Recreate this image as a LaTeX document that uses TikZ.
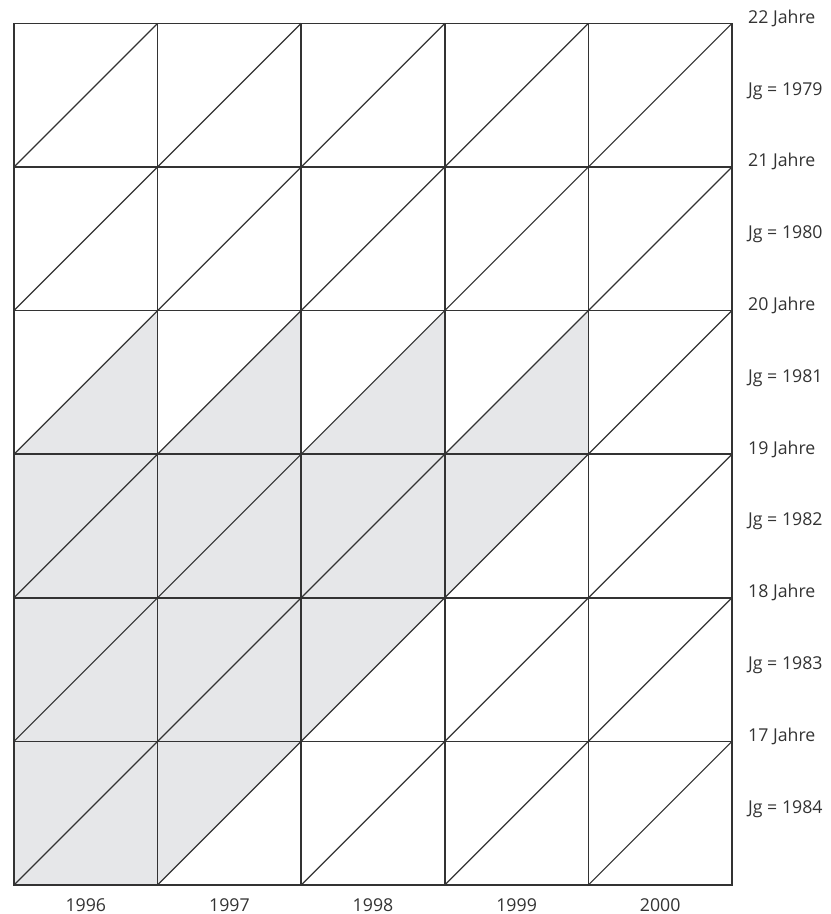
\documentclass[tikz,border=0pt]{standalone}
\usepackage{fontspec}
\setmainfont{Open Sans}
\usepackage{tikz}
\usetikzlibrary{positioning}

\definecolor{lexisgray}{HTML}{E6E7E9}
\definecolor{lexisline}{HTML}{333333}

\begin{document}
\begin{tikzpicture}[
    x=107.7pt, y=107.7pt,
    gridline/.style={draw=lexisline, line width=1.1pt, line cap=rect},
    diag/.style={draw=lexisline, line width=0.9pt},
    lbl/.style={font=\fontsize{13.3}{16}\selectfont, text=lexisline, inner sep=0pt}
]
    \useasboundingbox (-0.0975,-0.202) rectangle (5.689,6.163);

    % shaded band of cohorts
    \fill[lexisgray] (0,0) -- (1,0) -- (4,3) -- (4,4) -- (3,3) -- (3,4)
        -- (2,3) -- (2,4) -- (1,3) -- (1,4) -- (0,3) -- cycle;

    % diagonals and squares
    \foreach \i in {0,...,4}
        \foreach \j in {0,...,5}
            \draw[diag] (\i,\j) -- (\i+1,\j+1);
    \foreach \i in {0,...,5}
        \draw[gridline] (\i,0) -- (\i,6);
    \foreach \j in {0,...,6}
        \draw[gridline] (0,\j) -- (5,\j);

    % ages and birth years
    \foreach \j/\a in {6/22,5/21,4/20,3/19,2/18,1/17}
        \node[lbl, anchor=base west] (age\a) at (5.111,\j) {\a\ Jahre};
    \foreach \j/\g in {5/1979,4/1980,3/1981,2/1982,1/1983,0/1984}
        \node[lbl, anchor=base west] (jg\g) at (5.111,\j+0.5) {Jg = \g};

    % years
    \foreach \i/\y in {0/1996,1/1997,2/1998,3/1999,4/2000}
        \node[lbl, anchor=base] (yr\y) at (\i+0.5,-0.183) {\y};
\end{tikzpicture}
\end{document}
